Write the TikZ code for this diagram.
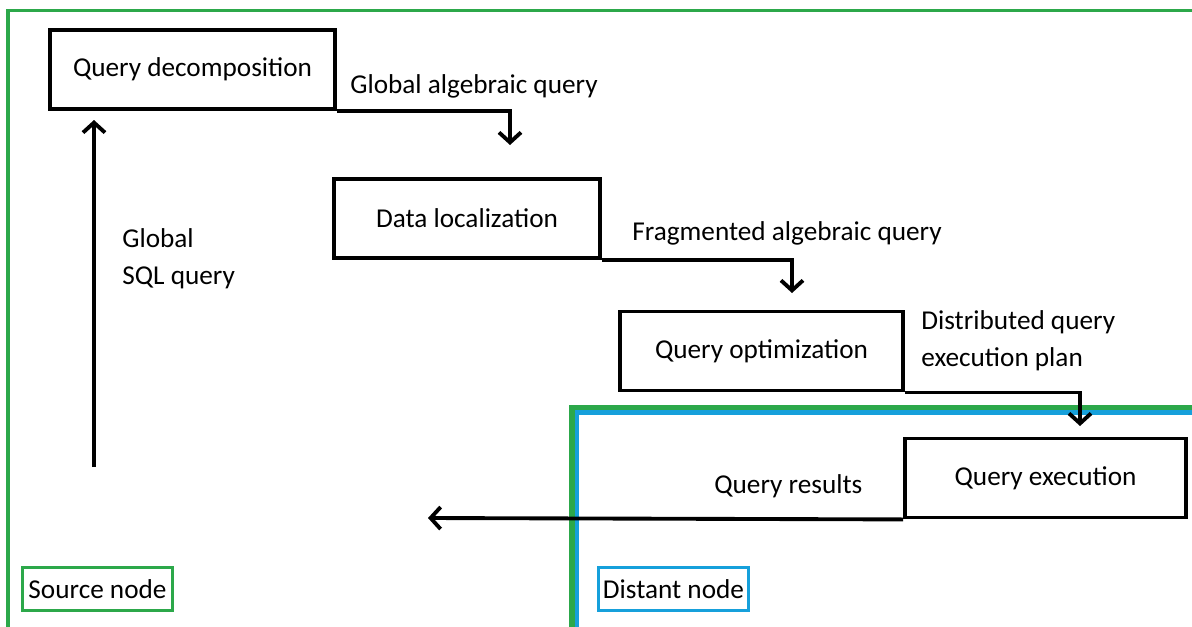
\documentclass[tikz,border=0pt]{standalone}
\usepackage{fontspec}
\setmainfont{Carlito}
\usetikzlibrary{arrows.meta}

\definecolor{srcgreen}{RGB}{44,168,74}
\definecolor{dstblue}{RGB}{22,160,219}

\tikzset{
  stage/.style={draw, line width=2.2pt, minimum width=#1, minimum height=1.58cm, inner sep=0pt},
  flow/.style={line width=2.2pt, -{Straight Barb[length=2mm,width=4.4mm,line width=2.2pt]}},
  lbl/.style={anchor=west, align=left, inner sep=0pt},
  tag/.style={draw=#1, line width=2pt, minimum width=3.0cm, minimum height=0.86cm, inner sep=0pt}
}

\begin{document}
\begin{tikzpicture}[x=0.02cm, y=-0.02cm, font=\fontsize{15.5}{21}\selectfont]
\useasboundingbox (0,0) rectangle (1192,626);
\begin{scope}
\clip (0,0) rectangle (1192,626);
\draw[srcgreen, line width=2pt] (8,640) -- (8,10.5) -- (1210,10.5);
% distant side
\draw[dstblue, line width=2.4pt] (577,640) -- (577,412.5) -- (1210,412.5);
\draw[srcgreen, line width=3.2pt] (572,640) -- (572,407.5) -- (1210,407.5);
\end{scope}

\node[stage=5.7cm]  (qd) at (192.5,69.5)  {Query decomposition};
\node[stage=5.32cm] (dl) at (467,218.5)   {Data localization};
\node[stage=5.66cm] (qo) at (761.5,351)   {Query optimization};
\node[stage=5.62cm] (qe) at (1045.5,478)  {Query execution};

\coordinate (t1) at (510,145);
\coordinate (t2) at (792,293);
\coordinate (t3) at (1080,426);
\coordinate (t4) at (428,518);
\coordinate (s0) at (94,467);
\coordinate (s1) at (94,120);

\draw[flow] (qd.south east) -| (t1);
\draw[flow] (dl.south east) -| (t2);
\draw[flow] (qo.south east) -| (t3);
\draw[flow] (qe.south west) -- (t4);
\draw[flow] (s0) -- (s1);

\node[lbl] (l1) at (350,86)  {Global algebraic query};
\node[lbl] (l2) at (632,233) {Fragmented algebraic query};
\node[lbl] (l3) at (921,341) {Distributed query\\execution plan};
\node[lbl] (l4) at (714,486) {Query results};
\node[lbl] (l5) at (122,259) {Global\\SQL query};

\node[tag=srcgreen] (src) at (97.5,589) {Source node};
\node[tag=dstblue]  (dst) at (673.5,589) {Distant node};
\end{tikzpicture}
\end{document}
